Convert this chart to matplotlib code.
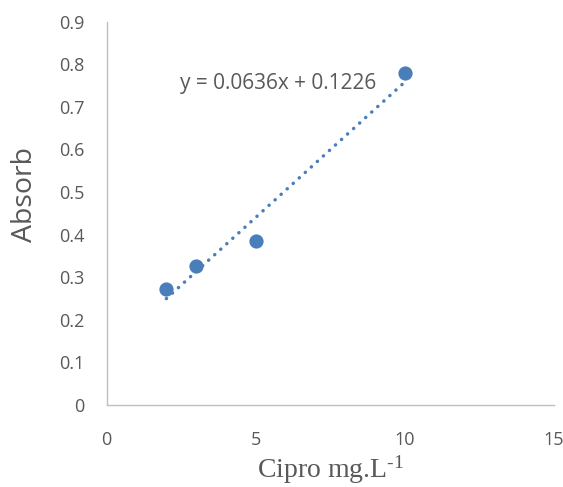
import matplotlib
matplotlib.use("Agg")
import matplotlib.pyplot as plt
import numpy as np

# Data
conc = [2, 3, 5, 10]
absorb = [0.272, 0.327, 0.384, 0.779]
slope = 0.0636
intercept = 0.1226
x_ticks = [0, 5, 10, 15]
y_ticks = [0, 0.1, 0.2, 0.3, 0.4, 0.5, 0.6, 0.7, 0.8, 0.9]
y_tick_labels = ["0", "0.1", "0.2", "0.3", "0.4", "0.5", "0.6", "0.7", "0.8", "0.9"]

plt.rcParams['mathtext.fontset'] = 'custom'
plt.rcParams['mathtext.rm'] = 'Liberation Serif'
plt.rcParams['mathtext.it'] = 'Liberation Serif:italic'

fig = plt.figure(figsize=(5.63, 4.87), dpi=100)
ax = fig.add_axes([106.7/563, 1-405/487, (554-106.7)/563, (405-21.7)/487])

blue = '#4A7EBB'
gray_txt = '#595959'

ax.scatter(conc, absorb, s=105, color=blue, zorder=3, linewidths=0)
tx = np.array([min(conc), max(conc)])
ax.plot(tx, slope*tx + intercept, color=blue, lw=2.5, linestyle=(0, (0.05, 2.3)),
        dash_capstyle='round', zorder=2)

ax.text(2.45, 0.756, f"y = {slope}x + {intercept}", fontsize=15, color=gray_txt,
        family='Open Sans', ha='left', va='center')

ax.set_xlim(0, 15)
ax.set_ylim(0, 0.9)
ax.set_xticks(x_ticks)
ax.set_xticklabels([str(t) for t in x_ticks])
ax.set_yticks(y_ticks)
ax.set_yticklabels(y_tick_labels)
ax.tick_params(length=0, labelsize=13, colors=gray_txt)
ax.tick_params(axis='y', pad=16)
ax.tick_params(axis='x', pad=19)
for lab in ax.get_xticklabels() + ax.get_yticklabels():
    lab.set_family('Open Sans')

for s in ['top', 'right']:
    ax.spines[s].set_visible(False)
for s in ['left', 'bottom']:
    ax.spines[s].set_color('#BFBFBF')
    ax.spines[s].set_linewidth(1.0)

fig.text(25/563, 1-195/487, "Absorb", rotation=90, ha='center', va='center',
         fontsize=20.5, color=gray_txt, family='Open Sans')
fig.text(330/563, 1-470/487, r"Cipro mg.L$^{\text{-1}}$", ha='center', va='center',
         fontsize=20, color=gray_txt, family='Liberation Serif')

fig.savefig("out.png", dpi=100)
